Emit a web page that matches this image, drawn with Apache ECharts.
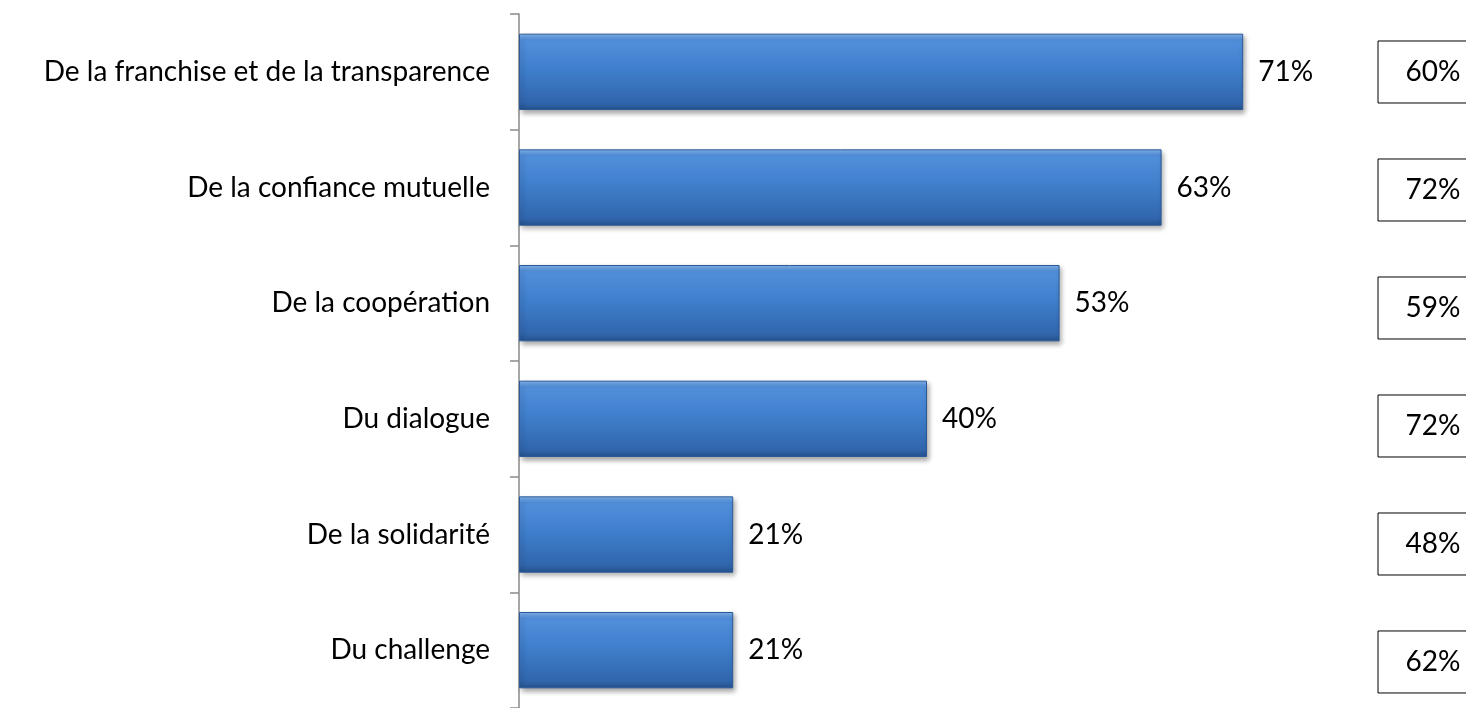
<!DOCTYPE html>
<html>
<head>
<meta charset="utf-8">
<script src="https://cdn.jsdelivr.net/npm/echarts@6/dist/echarts.min.js"></script>
<style>
  html, body { margin: 0; padding: 0; background: #fff; }
  #chart { width: 1466px; height: 708px; }
</style>
</head>
<body>
<div id="chart"></div>
<script>
// Categories, top to bottom
const categories = [
  'De la franchise et de la transparence',
  'De la confiance mutuelle',
  'De la coopération',
  'Du dialogue',
  'De la solidarité',
  'Du challenge'
];
// Bar values (%)
const barValues = [71, 63, 53, 40, 21, 21];
// Values shown in the boxed column on the right (%)
const boxValues = [60, 72, 59, 72, 48, 62];

const FONT = 'Lato, "Open Sans", sans-serif';
const FONT_SIZE = 28;

const chart = echarts.init(document.getElementById('chart'));

chart.setOption({
  animation: false,
  grid: [
    // main bar chart
    { left: 519, top: 14, width: 918, height: 700, containLabel: false },
    // right-hand column of boxed values (row index on a slightly wider pitch)
    { left: 1378, top: 13, width: 88, height: 695, containLabel: false }
  ],
  xAxis: [
    { gridIndex: 0, type: 'value', min: 0, max: 90, show: false },
    { gridIndex: 1, type: 'value', min: 0, max: 1, show: false }
  ],
  yAxis: [
    {
      gridIndex: 0,
      type: 'category',
      data: categories,
      inverse: true,
      axisLine: { show: true, lineStyle: { color: '#8a8a8a', width: 1.5 } },
      axisTick: { show: true, inside: false, length: 9, lineStyle: { color: '#8a8a8a', width: 1.5 } },
      axisLabel: { color: '#000', fontSize: FONT_SIZE, fontFamily: FONT, margin: 29 },
      splitLine: { show: false }
    },
    {
      gridIndex: 1,
      type: 'value',
      min: -0.5,
      max: 5.39,
      inverse: true,
      show: false
    }
  ],
  series: [
    {
      type: 'bar',
      xAxisIndex: 0,
      yAxisIndex: 0,
      data: barValues,
      barWidth: '66%',
      itemStyle: {
        color: new echarts.graphic.LinearGradient(0, 0, 0, 1, [
          { offset: 0, color: '#84b6ee' },
          { offset: 0.08, color: '#5290dc' },
          { offset: 0.5, color: '#3e7dca' },
          { offset: 0.9, color: '#3166ad' },
          { offset: 1, color: '#25528e' }
        ]),
        borderColor: '#2b5a97',
        borderWidth: 1,
        shadowColor: 'rgba(0,0,0,0.35)',
        shadowBlur: 5,
        shadowOffsetX: 2,
        shadowOffsetY: 3
      },
      label: {
        show: true,
        position: 'right',
        distance: 15,
        formatter: p => p.value + '%',
        color: '#000',
        fontSize: FONT_SIZE,
        fontFamily: FONT
      }
    },
    {
      type: 'custom',
      xAxisIndex: 1,
      yAxisIndex: 1,
      clip: false,
      data: boxValues.map((v, i) => [0, i, v]),
      encode: { x: 0, y: 1 },
      renderItem: function (params, api) {
        const pt = api.coord([0, api.value(1)]);
        const x = pt[0], yc = pt[1];
        const w = 100, h = 62;
        return {
          type: 'group',
          children: [
            {
              type: 'rect',
              shape: { x: x, y: yc - h / 2, width: w, height: h },
              style: { fill: '#fff', stroke: '#000', lineWidth: 1 }
            },
            {
              type: 'text',
              x: x + 55,
              y: yc,
              style: {
                text: api.value(2) + '%',
                fill: '#000',
                fontSize: FONT_SIZE,
                fontFamily: FONT,
                align: 'center',
                verticalAlign: 'middle'
              }
            }
          ]
        };
      }
    }
  ]
});
</script>
</body>
</html>
